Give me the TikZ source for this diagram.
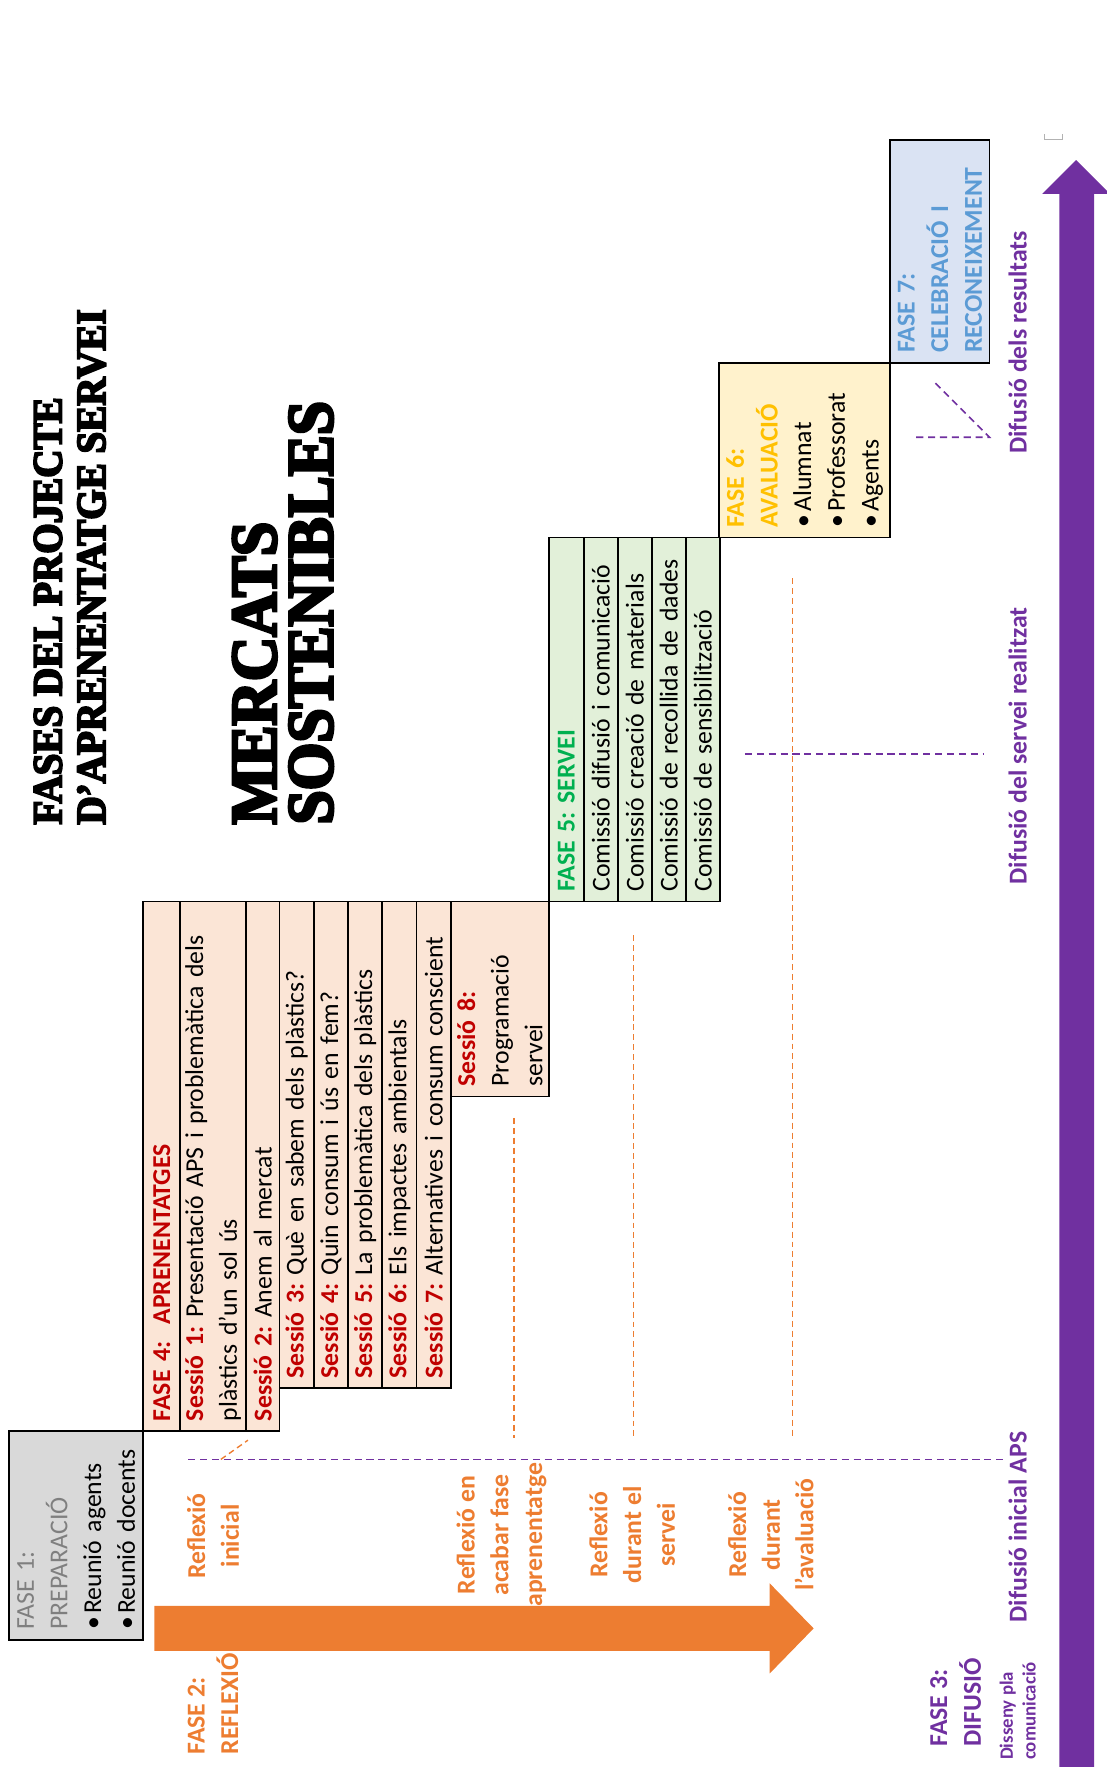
\documentclass[tikz,border=0pt]{standalone}
\usepackage{fontspec}
\setmainfont{Carlito}
\newfontfamily\titolfont{Liberation Serif}[FakeStretch=0.94, BoldFeatures={FakeBold=4.5}]
\usepackage{tikz}
\usetikzlibrary{positioning}
\frenchspacing

\definecolor{taronja}{HTML}{ED7D31}
\definecolor{lila}{HTML}{7030A0}
\definecolor{vermell}{HTML}{C00000}
\definecolor{verd}{HTML}{00B050}
\definecolor{groc}{HTML}{FFC000}
\definecolor{blau}{HTML}{5B9BD5}
\definecolor{gris}{HTML}{7F7F7F}
\definecolor{fgris}{HTML}{D9D9D9}
\definecolor{fpresec}{HTML}{FBE5D6}
\definecolor{fverd}{HTML}{E2F0D9}
\definecolor{fgroc}{HTML}{FFF2CC}
\definecolor{fblau}{HTML}{DAE3F3}

\tikzset{
	cella/.style={draw, line width=0.9pt, rotate=90, inner sep=0pt, align=left, font=\fontsize{13}{17}\selectfont},
	etiq/.style={rotate=90, inner sep=0pt, font=\bfseries\fontsize{13}{17}\selectfont},
	titol/.style={rotate=90, inner sep=0pt, align=left, font=\titolfont\bfseries},
	taronjad/.style={taronja, line width=0.7pt, dash pattern=on 3pt off 2pt},
	lilad/.style={lila, line width=0.8pt, dash pattern=on 3.6pt off 2.4pt}
}

% cella: nom, x1, x2, y1, y2, fons, text
\newcommand{\cella}[7]{%
	\pgfmathsetlengthmacro{\cllample}{((#5)-(#4))*0.2mm}%
	\pgfmathsetlengthmacro{\cllalt}{((#3)-(#2))*0.2mm}%
	\pgfmathsetlengthmacro{\clltext}{((#5)-(#4)-18)*0.2mm}%
	\node[cella, fill=#6, minimum width=\cllample, minimum height=\cllalt, text width=\clltext] (#1) at ({((#2)+(#3))/2},{((#4)+(#5))/2}) {#7};%
}
\newcommand{\ses}[1]{\textcolor{vermell}{\textbf{#1}}}
\newcommand{\punt}{•\hspace{0.12em}}

\begin{document}
\begin{tikzpicture}[x=0.2mm, y=-0.2mm]
	\useasboundingbox (0,0) rectangle (982,1568);

	% titols
	\node[titol, anchor=west, font=\titolfont\bfseries\fontsize{21}{22}\selectfont] (titol) at (62,732) {FASES DEL PROJECTE\\D’APRENENTATGE SERVEI};
	\node[titol, anchor=west, font=\titolfont\bfseries\fontsize{33}{28.5}\selectfont] (mercats) at (251,732) {MERCATS\\SOSTENIBLES};

	% fletxes
	\fill[taronja] (137,1425) -- (683,1425) -- (683,1405) -- (722,1445) -- (683,1485) -- (683,1465) -- (137,1465) -- cycle;
	\fill[lila] (940,1568) -- (940,172) -- (925,172) -- (955,142) -- (985,172) -- (971,172) -- (971,1568) -- cycle;
	\draw[gray!60, line width=0.5pt] (927,119) -- (927,124) -- (943,124) -- (943,119);

	% fase 1
	\cella{f1}{8}{127}{1270}{1455}{fgris}{\textcolor{gris}{FASE 1:}\\\textcolor{gris}{PREPARACIÓ}\\\punt Reunió agents\\\punt Reunió docents}

	% fase 4
	\cella{f4}{127}{160}{800}{1270}{fpresec}{\ses{FASE 4:\ \ APRENENTATGES}}
	\cella{s1}{160}{218}{800}{1270}{fpresec}{\ses{Sessió 1:} Presentació APS i problemàtica dels\\plàstics d’un sol ús}
	\cella{s2}{218}{248}{800}{1270}{fpresec}{\ses{Sessió 2:} Anem al mercat}
	\foreach \ns/\txt [count=\i] in {3/Què en sabem dels plàstics?, 4/Quin consum i ús en fem?, 5/La problemàtica dels plàstics, 6/Els impactes ambientals, 7/Alternatives i consum conscient}
		{\cella{s\ns}{248+30.4*(\i-1)}{248+30.4*\i}{800}{1232}{fpresec}{\ses{Sessió \ns:} \txt}}
	\cella{s8}{400}{487}{800}{973}{fpresec}{\ses{Sessió 8:}\\Programació\\servei}

	% fase 5
	\cella{f5}{487}{518}{477}{800}{fverd}{\textcolor{verd}{\textbf{FASE 5: SERVEI}}}
	\foreach \txt [count=\i] in {Comissió difusió i comunicació, Comissió creació de materials, Comissió de recollida de dades, Comissió de sensibilització}
		{\cella{c\i}{518+30.2*(\i-1)}{518+30.2*\i}{477}{800}{fverd}{\txt}}

	% fase 6 i 7
	\cella{f6}{638}{790}{322}{477}{fgroc}{\textcolor{groc}{\textbf{FASE 6:}}\\\textcolor{groc}{\textbf{AVALUACIÓ}}\\\punt Alumnat\\\punt Professorat\\\punt Agents}
	\cella{f7}{790}{878}{124}{322}{fblau}{\textcolor{blau}{\textbf{FASE 7:}}\\\textcolor{blau}{\textbf{CELEBRACIÓ I}}\\\textcolor{blau}{\textbf{RECONEIXEMENT}}}

	% reflexio
	\node[etiq, taronja, anchor=west, align=left] (fase2) at (189,1557) {FASE 2:\\REFLEXIÓ};
	\node[etiq, taronja, align=center] (rinicial) at (189,1363) {Reflexió\\inicial};
	\node[etiq, taronja, align=center] (racabar) at (445,1362) {Reflexió en\\acabar fase\\aprenentatge};
	\node[etiq, taronja, align=center] (rservei) at (561,1362) {Reflexió\\durant el\\servei};
	\node[etiq, taronja, align=center] (raval) at (684,1362) {Reflexió\\durant\\l’avaluació};

	% difusio
	\node[etiq, lila, anchor=west, align=left] (fase3) at (848,1550) {FASE 3:\\DIFUSIÓ};
	\node[etiq, lila, anchor=west, align=left, font=\bfseries\fontsize{9.5}{11.5}\selectfont] (pla) at (903,1562) {Disseny pla\\comunicació};
	\node[etiq, lila, anchor=west] (dinicial) at (903,1440) {Difusió inicial APS};
	\node[etiq, lila, anchor=west] (dservei) at (903,785) {Difusió del servei realitzat};
	\node[etiq, lila, anchor=west] (dresultats) at (903,403) {Difusió dels resultats};

	% linies discontinues
	\coordinate (l1a) at (167,1295); \coordinate (l1b) at (890,1295);
	\coordinate (l2a) at (661,669);  \coordinate (l2b) at (872,669);
	\coordinate (l3a) at (813,388);  \coordinate (l3b) at (878,388);
	\coordinate (l3c) at (830,340);
	\draw[lilad] (l1a) -- (l1b);
	\draw[lilad] (l2a) -- (l2b);
	\draw[lilad] (l3a) -- (l3b) -- (l3c);

	\coordinate (t0a) at (196,1295); \coordinate (t0b) at (220,1278);
	\coordinate (t1a) at (456,992);  \coordinate (t1b) at (456,1276);
	\coordinate (t2a) at (562,830);  \coordinate (t2b) at (562,1276);
	\coordinate (t3a) at (703,513);  \coordinate (t3b) at (703,1276);
	\foreach \k in {0,...,3}
		\draw[taronjad] (t\k a) -- (t\k b);
\end{tikzpicture}
\end{document}
